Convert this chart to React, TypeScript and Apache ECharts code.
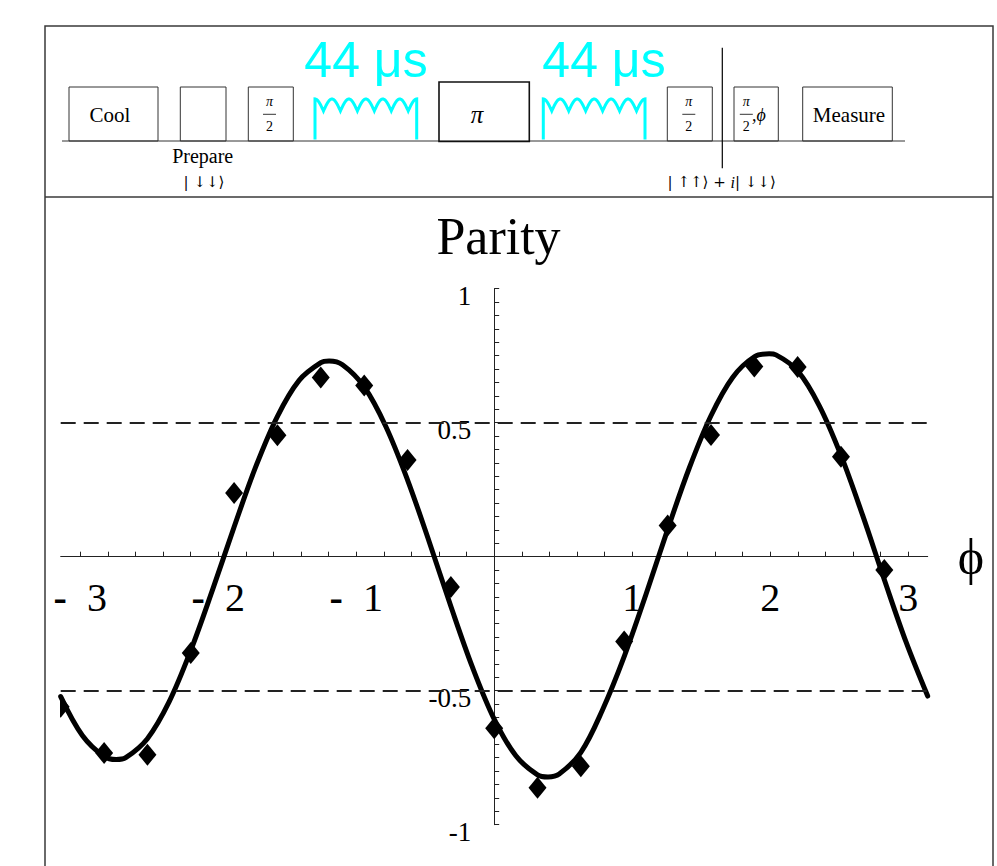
import React, { useEffect, useRef } from 'react';
import * as echarts from 'echarts';

const PI = Math.PI;

// Measured parity at analysis phases φ (steps of π/10)
const phasePoints = [
  -3.142, -2.827, -2.513, -2.199, -1.885, -1.571, -1.257, -0.942, -0.628, -0.314,
  0, 0.314, 0.628, 0.942, 1.257, 1.571, 1.885, 2.199, 2.513, 2.827,
];
const parityPoints = [
  -0.56, -0.732, -0.739, -0.359, 0.238, 0.453, 0.669, 0.639, 0.361, -0.113,
  -0.64, -0.862, -0.782, -0.316, 0.116, 0.454, 0.71, 0.708, 0.373, -0.05,
];

// Fitted parity curve
const fitPhase = [
  -3.1415, -2.9845, -2.8274, -2.74, -2.6704, -2.5133, -2.3562, -2.1991, -2.042, -1.885,
  -1.7279, -1.5708, -1.4137, -1.2566, -1.196, -1.0996, -0.9425, -0.7854, -0.6283, -0.4712,
  -0.3142, -0.1571, 0, 0.1571, 0.3142, 0.39, 0.4712, 0.6283, 0.7854, 0.9425,
  1.0996, 1.2566, 1.4137, 1.5708, 1.7279, 1.885, 1.993, 2.042, 2.1991, 2.3562,
  2.5133, 2.6704, 2.8274, 2.9845, 3.1415,
];
const fitParity = [
  -0.522, -0.667, -0.745, -0.757, -0.75, -0.679, -0.542, -0.35, -0.125, 0.111,
  0.336, 0.524, 0.658, 0.724, 0.73, 0.716, 0.634, 0.486, 0.287, 0.056,
  -0.185, -0.413, -0.606, -0.743, -0.814, -0.822, -0.811, -0.73, -0.571, -0.372,
  -0.141, 0.101, 0.331, 0.526, 0.669, 0.746, 0.757, 0.753, 0.693, 0.563,
  0.378, 0.154, -0.086, -0.318, -0.52,
];

// Axis ticks and labels (negative labels: a detached minus sign, then the digit)
const xLabelValues = [-3, -2, -1, 1, 2, 3];
const xTickLabels = ['- 3', '- 2', '- 1', '1', '2', '3'];
const xTickStep = 0.2;
const yLabelValues = [-1, -0.5, 0.5, 1];
const yTickLabels = ['-1', '-0.5', '0.5', '1'];
const yTickStep = 0.05;
const guideLevels = [0.5, -0.5];

const SERIF = '"Liberation Serif", "Times New Roman", "DejaVu Serif", serif';
const SANS = '"Liberation Sans", Arial, sans-serif';
const KET = '"DejaVu Serif", "DejaVu Sans", serif';
const CYAN = '#00FFFF';

const xTickValues: number[] = [];
for (let i = -15; i <= 15; i++) xTickValues.push(Math.round(i * xTickStep * 10) / 10);

// rich-text form of an x label: heavy minus, wide gap, digit
function xLabelRich(label: string): string {
  if (label.startsWith('- ')) return '{m|-}{d|\u2002' + label.slice(2) + '}';
  return '{d|' + label + '}';
}

// coil-shaped delay symbol between two legs
function coil(x0: number, x1: number): number[][] {
  const pts: number[][] = [[x0, 139.5]];
  const n = 180;
  for (let i = 0; i <= n; i++) {
    const t = i / n;
    pts.push([x0 + (x1 - x0) * t, 111 - 12 * Math.abs(Math.cos(6 * Math.PI * t))]);
  }
  pts.push([x1, 139.5]);
  return pts;
}

function box(x: number, y: number, w: number, h: number, lw = 1, stroke = '#333') {
  return { type: 'rect', shape: { x, y, width: w, height: h }, style: { fill: 'none', stroke, lineWidth: lw }, silent: true };
}

function txt(x: number, y: number, text: string, size: number, opts: any = {}) {
  return {
    type: 'text',
    x,
    y,
    silent: true,
    style: {
      text,
      fontFamily: opts.family || SERIF,
      fontSize: size,
      fontStyle: opts.italic ? 'italic' : 'normal',
      fill: opts.color || '#000',
      align: opts.align || 'center',
      verticalAlign: 'middle',
      rich: opts.rich,
    },
  };
}

function fraction(cx: number) {
  return [
    txt(cx, 101.5, 'π', 14, { italic: true }),
    { type: 'line', shape: { x1: cx - 6.5, y1: 114.3, x2: cx + 6.5, y2: 114.3 }, style: { stroke: '#000', lineWidth: 0.8 }, silent: true },
    txt(cx, 126.5, '2', 14),
  ];
}

function sequenceGraphics(): any[] {
  return [
    box(45, 26, 948, 900, 1.5, '#3a3a3a'),
    { type: 'line', shape: { x1: 45, y1: 197, x2: 993, y2: 197 }, style: { stroke: '#3a3a3a', lineWidth: 1.5 }, silent: true },
    { type: 'line', shape: { x1: 62, y1: 141, x2: 905, y2: 141 }, style: { stroke: '#333', lineWidth: 1 }, silent: true },
    box(69, 87, 89, 54),
    txt(110, 114.5, 'Cool', 21),
    box(180.3, 87, 45.7, 54),
    txt(202.7, 156, 'Prepare', 20),
    txt(204, 181.5, '| ↓↓⟩', 15, { family: KET }),
    box(248.3, 87, 45, 54),
    ...fraction(269.5),
    { type: 'polyline', shape: { points: coil(315, 416.7) }, style: { stroke: CYAN, lineWidth: 3, fill: 'none' }, silent: true },
    txt(366, 60, '44 μs', 50, { family: SANS, color: CYAN }),
    box(439, 82, 90.3, 59.5, 1.6, '#111'),
    txt(477, 114.3, 'π', 25, { italic: true }),
    { type: 'polyline', shape: { points: coil(543.3, 645) }, style: { stroke: CYAN, lineWidth: 3, fill: 'none' }, silent: true },
    txt(604, 60, '44 μs', 50, { family: SANS, color: CYAN }),
    box(667.3, 87, 45, 54),
    ...fraction(688.8),
    { type: 'line', shape: { x1: 722.3, y1: 47.7, x2: 722.3, y2: 168.3 }, style: { stroke: '#000', lineWidth: 1.2 }, silent: true },
    box(734, 87, 44.3, 54),
    ...fraction(746.3),
    txt(752, 115, ',ϕ', 18, { align: 'left', italic: true }),
    box(802.7, 87, 89.6, 54),
    txt(849, 114.5, 'Measure', 21),
    txt(721.7, 182, '| ↑↑⟩ + {i|i}| ↓↓⟩', 15, { family: KET, rich: { i: { fontStyle: 'italic', fontFamily: SERIF, fontSize: 16 } } }),
  ];
}

export default function App() {
  const ref = useRef<HTMLDivElement>(null);

  useEffect(() => {
    if (!ref.current) return;
    const chart = echarts.init(ref.current, null, { renderer: 'svg' });
    const axisColor = '#222';

    chart.setOption({
      animation: false,
      backgroundColor: '#fff',
      title: {
        text: 'Parity',
        left: 'center',
        top: 205,
        textStyle: { fontFamily: SERIF, fontSize: 52, fontWeight: 'normal', color: '#000' },
      },
      grid: { left: 60.7, right: 69.3, top: 288.7, bottom: 41.3, containLabel: false, outerBoundsMode: 'none' },
      xAxis: {
        type: 'value',
        min: -PI,
        max: PI,
        axisLine: { show: true, onZero: true, lineStyle: { color: axisColor, width: 1 } },
        axisTick: { show: true, inside: true, length: 5, customValues: xTickValues, lineStyle: { color: axisColor, width: 1 } },
        axisLabel: { show: false },
        splitLine: { show: false },
        name: 'ϕ',
        nameLocation: 'end',
        nameGap: 30,
        nameTextStyle: { fontFamily: SERIF, fontSize: 50, color: '#000', align: 'left', verticalAlign: 'middle' },
      },
      yAxis: {
        type: 'value',
        min: -1,
        max: 1,
        interval: yTickStep,
        axisLine: { show: true, onZero: true, lineStyle: { color: axisColor, width: 1 } },
        axisTick: { show: true, inside: true, length: 5, lineStyle: { color: axisColor, width: 1 } },
        axisLabel: { show: false },
        splitLine: { show: false },
      },
      series: [
        {
          type: 'line',
          data: fitPhase.map((p, i) => [p, fitParity[i]]),
          showSymbol: false,
          smooth: 0.35,
          clip: true,
          lineStyle: { color: '#000', width: 5, cap: 'round', join: 'round' },
          silent: true,
          z: 3,
          markLine: {
            silent: true,
            symbol: ['none', 'none'],
            label: { show: false },
            lineStyle: { color: '#222', width: 2, type: [15, 8] },
            data: guideLevels.map((v) => ({ yAxis: v })),
          },
        },
        {
          type: 'custom',
          clip: true,
          silent: true,
          z: 4,
          data: phasePoints.map((p, i) => [p, parityPoints[i]]),
          encode: { x: 0, y: 1 },
          renderItem: (_params: any, api: any) => {
            const c = api.coord([api.value(0), api.value(1)]);
            return {
              type: 'polygon',
              shape: { points: [[c[0], c[1] - 11], [c[0] + 9, c[1]], [c[0], c[1] + 11], [c[0] - 9, c[1]]] },
              style: { fill: '#000' },
            };
          },
        },
        {
          // φ tick labels hanging below the zero line
          type: 'custom',
          clip: false,
          silent: true,
          z: 2,
          data: xLabelValues.map((v) => [v, 0]),
          encode: { x: 0, y: 1 },
          renderItem: (params: any, api: any) => {
            const c = api.coord([api.value(0), api.value(1)]);
            return {
              type: 'text',
              x: c[0],
              y: c[1] + 41,
              style: {
                text: xLabelRich(xTickLabels[params.dataIndex]),
                fontFamily: SERIF,
                fontSize: 40,
                fill: '#000',
                align: 'center',
                verticalAlign: 'middle',
                rich: {
                  m: { fontFamily: SERIF, fontSize: 40, fontWeight: 'bold', fill: '#000' },
                  d: { fontFamily: SERIF, fontSize: 40, fill: '#000' },
                },
              },
            };
          },
        },
        {
          // parity tick labels left of the φ = 0 line
          type: 'custom',
          clip: false,
          silent: true,
          z: 2,
          data: yLabelValues.map((v) => [0, v]),
          encode: { x: 0, y: 1 },
          renderItem: (params: any, api: any) => {
            const c = api.coord([api.value(0), api.value(1)]);
            return {
              type: 'text',
              x: c[0] - 23,
              y: c[1] + 7,
              style: {
                text: yTickLabels[params.dataIndex],
                fontFamily: SERIF,
                fontSize: 27,
                fill: '#000',
                align: 'right',
                verticalAlign: 'middle',
              },
            };
          },
        },
      ],
      graphic: sequenceGraphics(),
    });

    return () => chart.dispose();
  }, []);

  return (
    <div
      ref={ref}
      style={{ position: 'absolute', left: 0, top: 0, width: 997, height: 866, background: '#fff' }}
    />
  );
}
